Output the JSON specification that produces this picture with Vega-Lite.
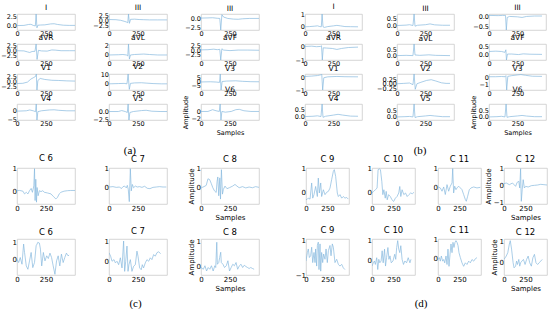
{
"$schema":"https://vega.github.io/schema/vega-lite/v6.json",
"background":"white",
"padding":{"left":0,"right":0,"top":2,"bottom":0},
"config":{
"view":{"stroke":"#cccccc","strokeWidth":0.8},
"axis":{"ticks":false,"domain":false,"grid":false,"labelFont":"DejaVu Sans","labelFontSize":6.5,"labelColor":"#000","labelPadding":0.5,"labelOverlap":false,"labelFlush":false,"titleFont":"DejaVu Sans","titleFontSize":6.5,"titleFontWeight":"normal","titleColor":"#000","titlePadding":2},
"title":{"font":"DejaVu Sans","fontSize":7.5,"fontWeight":"normal","offset":1.5,"color":"#000","anchor":"middle"},
"line":{"color":"#86b9de","strokeWidth":0.7}
},
"data":{"values":[
{"p":"aI","x":0,"y":0},{"p":"aI","x":60,"y":0.05},{"p":"aI","x":100,"y":0.3},{"p":"aI","x":120,"y":0.35},{"p":"aI","x":140,"y":0.05},{"p":"aI","x":158,"y":-0.1},{"p":"aI","x":165,"y":3.15},{"p":"aI","x":172,"y":-0.6},{"p":"aI","x":180,"y":0.1},{"p":"aI","x":200,"y":0.15},{"p":"aI","x":240,"y":0.2},{"p":"aI","x":290,"y":0.45},{"p":"aI","x":320,"y":0.5},{"p":"aI","x":350,"y":0.3},{"p":"aI","x":400,"y":0.1},{"p":"aI","x":450,"y":0.05},{"p":"aI","x":500,"y":0.05},
{"p":"aIII","x":0,"y":0.5},{"p":"aIII","x":60,"y":0.4},{"p":"aIII","x":100,"y":0.1},{"p":"aIII","x":130,"y":-0.4},{"p":"aIII","x":150,"y":-0.8},{"p":"aIII","x":162,"y":-1.2},{"p":"aIII","x":168,"y":3.4},{"p":"aIII","x":176,"y":-1.5},{"p":"aIII","x":186,"y":0.6},{"p":"aIII","x":220,"y":0.7},{"p":"aIII","x":260,"y":0.5},{"p":"aIII","x":300,"y":0.4},{"p":"aIII","x":350,"y":0.3},{"p":"aIII","x":420,"y":0.3},{"p":"aIII","x":500,"y":0.3},
{"p":"aIIIb","x":0,"y":0.2},{"p":"aIIIb","x":60,"y":0.25},{"p":"aIIIb","x":100,"y":0.3},{"p":"aIIIb","x":140,"y":0.15},{"p":"aIIIb","x":162,"y":0.1},{"p":"aIIIb","x":170,"y":-3.3},{"p":"aIIIb","x":180,"y":1.2},{"p":"aIIIb","x":195,"y":0.5},{"p":"aIIIb","x":230,"y":0.1},{"p":"aIIIb","x":280,"y":-0.1},{"p":"aIIIb","x":320,"y":-0.15},{"p":"aIIIb","x":360,"y":0},{"p":"aIIIb","x":420,"y":0.1},{"p":"aIIIb","x":500,"y":0.1},
{"p":"aaVR","x":0,"y":0},{"p":"aaVR","x":60,"y":-0.1},{"p":"aaVR","x":90,"y":-0.6},{"p":"aaVR","x":110,"y":-0.9},{"p":"aaVR","x":130,"y":-0.4},{"p":"aaVR","x":155,"y":-0.3},{"p":"aaVR","x":165,"y":3.4},{"p":"aaVR","x":173,"y":-4.4},{"p":"aaVR","x":185,"y":0.2},{"p":"aaVR","x":210,"y":-0.1},{"p":"aaVR","x":260,"y":-0.2},{"p":"aaVR","x":300,"y":0.4},{"p":"aaVR","x":330,"y":0.3},{"p":"aaVR","x":380,"y":0},{"p":"aaVR","x":450,"y":0},{"p":"aaVR","x":500,"y":0},
{"p":"aaVL","x":0,"y":0},{"p":"aaVL","x":80,"y":0.05},{"p":"aaVL","x":120,"y":0.1},{"p":"aaVL","x":150,"y":0},{"p":"aaVL","x":162,"y":-0.2},{"p":"aaVL","x":168,"y":2.4},{"p":"aaVL","x":176,"y":-0.9},{"p":"aaVL","x":185,"y":0},{"p":"aaVL","x":220,"y":0.1},{"p":"aaVL","x":300,"y":0.2},{"p":"aaVL","x":350,"y":0.1},{"p":"aaVL","x":420,"y":0},{"p":"aaVL","x":500,"y":0},
{"p":"aaVF","x":0,"y":0.2},{"p":"aaVF","x":60,"y":0.3},{"p":"aaVF","x":110,"y":0.6},{"p":"aaVF","x":140,"y":0.3},{"p":"aaVF","x":162,"y":0.5},{"p":"aaVF","x":170,"y":-5.3},{"p":"aaVF","x":180,"y":0.8},{"p":"aaVF","x":195,"y":0.1},{"p":"aaVF","x":250,"y":-0.2},{"p":"aaVF","x":320,"y":0.1},{"p":"aaVF","x":400,"y":0.1},{"p":"aaVF","x":500,"y":0},
{"p":"aV1","x":0,"y":-1},{"p":"aV1","x":50,"y":-0.9},{"p":"aV1","x":90,"y":-0.3},{"p":"aV1","x":120,"y":1.2},{"p":"aV1","x":145,"y":2},{"p":"aV1","x":160,"y":2.5},{"p":"aV1","x":167,"y":3.7},{"p":"aV1","x":172,"y":-4.2},{"p":"aV1","x":180,"y":0.5},{"p":"aV1","x":200,"y":1.5},{"p":"aV1","x":240,"y":1},{"p":"aV1","x":300,"y":0.6},{"p":"aV1","x":360,"y":0.5},{"p":"aV1","x":430,"y":0.3},{"p":"aV1","x":500,"y":0.2},
{"p":"aV2","x":0,"y":0},{"p":"aV2","x":80,"y":0.3},{"p":"aV2","x":130,"y":0.5},{"p":"aV2","x":155,"y":0},{"p":"aV2","x":165,"y":10.7},{"p":"aV2","x":175,"y":-6},{"p":"aV2","x":185,"y":0.5},{"p":"aV2","x":220,"y":1},{"p":"aV2","x":280,"y":1.2},{"p":"aV2","x":320,"y":0.8},{"p":"aV2","x":380,"y":0.3},{"p":"aV2","x":450,"y":0},{"p":"aV2","x":500,"y":0},
{"p":"aV3","x":0,"y":-0.5},{"p":"aV3","x":80,"y":-0.3},{"p":"aV3","x":130,"y":-0.6},{"p":"aV3","x":160,"y":-1},{"p":"aV3","x":166,"y":8.5},{"p":"aV3","x":173,"y":-9.6},{"p":"aV3","x":182,"y":0},{"p":"aV3","x":220,"y":0.5},{"p":"aV3","x":300,"y":0.8},{"p":"aV3","x":360,"y":0.2},{"p":"aV3","x":430,"y":-0.2},{"p":"aV3","x":500,"y":-0.3},
{"p":"aV4","x":0,"y":-0.2},{"p":"aV4","x":80,"y":0},{"p":"aV4","x":110,"y":0.5},{"p":"aV4","x":140,"y":0},{"p":"aV4","x":160,"y":-0.5},{"p":"aV4","x":166,"y":4},{"p":"aV4","x":172,"y":-5.4},{"p":"aV4","x":180,"y":-0.5},{"p":"aV4","x":210,"y":0},{"p":"aV4","x":280,"y":0.5},{"p":"aV4","x":320,"y":0.6},{"p":"aV4","x":360,"y":0.3},{"p":"aV4","x":430,"y":0},{"p":"aV4","x":500,"y":0},
{"p":"aV5","x":0,"y":0},{"p":"aV5","x":80,"y":0},{"p":"aV5","x":110,"y":0.3},{"p":"aV5","x":140,"y":0},{"p":"aV5","x":158,"y":-0.3},{"p":"aV5","x":165,"y":2.4},{"p":"aV5","x":172,"y":-2.7},{"p":"aV5","x":180,"y":-0.3},{"p":"aV5","x":210,"y":0},{"p":"aV5","x":280,"y":0.3},{"p":"aV5","x":320,"y":0.4},{"p":"aV5","x":370,"y":0.1},{"p":"aV5","x":440,"y":0},{"p":"aV5","x":500,"y":0},
{"p":"aV6","x":0,"y":0},{"p":"aV6","x":60,"y":0},{"p":"aV6","x":100,"y":0.5},{"p":"aV6","x":130,"y":0.2},{"p":"aV6","x":158,"y":0},{"p":"aV6","x":165,"y":2.1},{"p":"aV6","x":172,"y":-2.4},{"p":"aV6","x":180,"y":0},{"p":"aV6","x":210,"y":-0.2},{"p":"aV6","x":260,"y":0},{"p":"aV6","x":300,"y":0.5},{"p":"aV6","x":330,"y":0.6},{"p":"aV6","x":370,"y":0.2},{"p":"aV6","x":430,"y":0},{"p":"aV6","x":500,"y":0},
{"p":"bI","x":0,"y":0},{"p":"bI","x":40,"y":0.02},{"p":"bI","x":80,"y":0.05},{"p":"bI","x":110,"y":0.08},{"p":"bI","x":130,"y":0.02},{"p":"bI","x":143,"y":0},{"p":"bI","x":150,"y":1.08},{"p":"bI","x":158,"y":0},{"p":"bI","x":170,"y":-0.05},{"p":"bI","x":200,"y":0.02},{"p":"bI","x":250,"y":0.08},{"p":"bI","x":280,"y":0.12},{"p":"bI","x":310,"y":0.08},{"p":"bI","x":350,"y":0.02},{"p":"bI","x":400,"y":0.01},{"p":"bI","x":465,"y":0},
{"p":"bIII","x":0,"y":0},{"p":"bIII","x":80,"y":0.03},{"p":"bIII","x":110,"y":0.06},{"p":"bIII","x":140,"y":0},{"p":"bIII","x":150,"y":0.85},{"p":"bIII","x":158,"y":-0.05},{"p":"bIII","x":180,"y":0.02},{"p":"bIII","x":250,"y":0.06},{"p":"bIII","x":290,"y":0.12},{"p":"bIII","x":330,"y":0.05},{"p":"bIII","x":400,"y":0.02},{"p":"bIII","x":465,"y":0.02},
{"p":"bIIIb","x":0,"y":0.05},{"p":"bIIIb","x":80,"y":0.04},{"p":"bIIIb","x":120,"y":0.05},{"p":"bIIIb","x":145,"y":0.05},{"p":"bIIIb","x":152,"y":-0.67},{"p":"bIIIb","x":160,"y":-0.05},{"p":"bIIIb","x":180,"y":0},{"p":"bIIIb","x":250,"y":-0.02},{"p":"bIIIb","x":290,"y":-0.05},{"p":"bIIIb","x":330,"y":0},{"p":"bIIIb","x":400,"y":0.02},{"p":"bIIIb","x":465,"y":0.02},
{"p":"baVR","x":0,"y":0},{"p":"baVR","x":60,"y":0.02},{"p":"baVR","x":100,"y":-0.02},{"p":"baVR","x":135,"y":0},{"p":"baVR","x":145,"y":0.05},{"p":"baVR","x":152,"y":-1},{"p":"baVR","x":160,"y":-0.1},{"p":"baVR","x":190,"y":-0.12},{"p":"baVR","x":240,"y":-0.15},{"p":"baVR","x":280,"y":-0.22},{"p":"baVR","x":320,"y":-0.15},{"p":"baVR","x":380,"y":-0.08},{"p":"baVR","x":465,"y":-0.05},
{"p":"baVL","x":0,"y":0},{"p":"baVL","x":80,"y":0.02},{"p":"baVL","x":140,"y":0},{"p":"baVL","x":150,"y":0.9},{"p":"baVL","x":158,"y":0.05},{"p":"baVL","x":200,"y":0.02},{"p":"baVL","x":280,"y":0.06},{"p":"baVL","x":340,"y":0.02},{"p":"baVL","x":465,"y":0},
{"p":"baVF","x":0,"y":0.2},{"p":"baVF","x":60,"y":0.22},{"p":"baVF","x":110,"y":0.2},{"p":"baVF","x":140,"y":0.15},{"p":"baVF","x":148,"y":0.3},{"p":"baVF","x":153,"y":-0.3},{"p":"baVF","x":162,"y":0.05},{"p":"baVF","x":200,"y":0.05},{"p":"baVF","x":260,"y":0.02},{"p":"baVF","x":300,"y":0.06},{"p":"baVF","x":360,"y":0.04},{"p":"baVF","x":465,"y":0.03},
{"p":"bV1","x":0,"y":0.05},{"p":"bV1","x":60,"y":0.08},{"p":"bV1","x":110,"y":0.12},{"p":"bV1","x":140,"y":0.18},{"p":"bV1","x":147,"y":0.22},{"p":"bV1","x":155,"y":-1},{"p":"bV1","x":165,"y":-0.05},{"p":"bV1","x":200,"y":0.02},{"p":"bV1","x":280,"y":0.05},{"p":"bV1","x":350,"y":0.03},{"p":"bV1","x":465,"y":0.02},
{"p":"bV2","x":0,"y":0},{"p":"bV2","x":60,"y":0.02},{"p":"bV2","x":110,"y":0.04},{"p":"bV2","x":140,"y":-0.05},{"p":"bV2","x":150,"y":0.53},{"p":"bV2","x":160,"y":-0.3},{"p":"bV2","x":175,"y":0},{"p":"bV2","x":210,"y":0.08},{"p":"bV2","x":260,"y":0.18},{"p":"bV2","x":300,"y":0.22},{"p":"bV2","x":340,"y":0.15},{"p":"bV2","x":390,"y":0.05},{"p":"bV2","x":430,"y":0.02},{"p":"bV2","x":465,"y":0.02},
{"p":"bV3","x":0,"y":0.05},{"p":"bV3","x":60,"y":0.05},{"p":"bV3","x":110,"y":0.08},{"p":"bV3","x":140,"y":0.05},{"p":"bV3","x":148,"y":0.2},{"p":"bV3","x":155,"y":-1.8},{"p":"bV3","x":165,"y":0.1},{"p":"bV3","x":200,"y":0.2},{"p":"bV3","x":250,"y":0.3},{"p":"bV3","x":280,"y":0.35},{"p":"bV3","x":320,"y":0.25},{"p":"bV3","x":380,"y":0.12},{"p":"bV3","x":465,"y":0.1},
{"p":"bV4","x":0,"y":0},{"p":"bV4","x":70,"y":0.02},{"p":"bV4","x":110,"y":0.05},{"p":"bV4","x":140,"y":0},{"p":"bV4","x":150,"y":0.84},{"p":"bV4","x":158,"y":-0.05},{"p":"bV4","x":180,"y":0.02},{"p":"bV4","x":250,"y":0.1},{"p":"bV4","x":290,"y":0.15},{"p":"bV4","x":330,"y":0.1},{"p":"bV4","x":400,"y":0.03},{"p":"bV4","x":465,"y":0.02},
{"p":"bV5","x":0,"y":0},{"p":"bV5","x":70,"y":0.02},{"p":"bV5","x":110,"y":0.04},{"p":"bV5","x":140,"y":0},{"p":"bV5","x":150,"y":1.05},{"p":"bV5","x":158,"y":-0.05},{"p":"bV5","x":180,"y":0.02},{"p":"bV5","x":250,"y":0.08},{"p":"bV5","x":290,"y":0.12},{"p":"bV5","x":330,"y":0.08},{"p":"bV5","x":400,"y":0.02},{"p":"bV5","x":465,"y":0.02},
{"p":"bV6","x":0,"y":0},{"p":"bV6","x":70,"y":0.02},{"p":"bV6","x":110,"y":0.05},{"p":"bV6","x":140,"y":0},{"p":"bV6","x":150,"y":1.05},{"p":"bV6","x":158,"y":-0.03},{"p":"bV6","x":180,"y":0.02},{"p":"bV6","x":250,"y":0.08},{"p":"bV6","x":290,"y":0.12},{"p":"bV6","x":330,"y":0.07},{"p":"bV6","x":400,"y":0.02},{"p":"bV6","x":465,"y":0.02},
{"p":"c6a","x":0,"y":0.03},{"p":"c6a","x":23,"y":0.04},{"p":"c6a","x":51,"y":0.01},{"p":"c6a","x":65,"y":-0.11},{"p":"c6a","x":80,"y":-0.04},{"p":"c6a","x":94,"y":-0.11},{"p":"c6a","x":108,"y":0.03},{"p":"c6a","x":122,"y":0.13},{"p":"c6a","x":133,"y":-0.04},{"p":"c6a","x":145,"y":0.24},{"p":"c6a","x":151,"y":0.99},{"p":"c6a","x":156,"y":-0.4},{"p":"c6a","x":162,"y":0.53},{"p":"c6a","x":168,"y":-0.47},{"p":"c6a","x":173,"y":0.17},{"p":"c6a","x":182,"y":-0.19},{"p":"c6a","x":193,"y":0.03},{"p":"c6a","x":207,"y":-0.01},{"p":"c6a","x":222,"y":0.03},{"p":"c6a","x":236,"y":-0.04},{"p":"c6a","x":264,"y":-0.07},{"p":"c6a","x":293,"y":-0.11},{"p":"c6a","x":315,"y":-0.23},{"p":"c6a","x":335,"y":-0.33},{"p":"c6a","x":349,"y":-0.26},{"p":"c6a","x":364,"y":-0.11},{"p":"c6a","x":378,"y":-0.04},{"p":"c6a","x":406,"y":0.01},{"p":"c6a","x":435,"y":0.03},{"p":"c6a","x":463,"y":0.04},{"p":"c6a","x":500,"y":0.04},
{"p":"c7a","x":0,"y":0},{"p":"c7a","x":34,"y":0.02},{"p":"c7a","x":63,"y":-0.02},{"p":"c7a","x":92,"y":0},{"p":"c7a","x":106,"y":-0.09},{"p":"c7a","x":121,"y":0.02},{"p":"c7a","x":135,"y":0.05},{"p":"c7a","x":149,"y":-0.05},{"p":"c7a","x":158,"y":0.09},{"p":"c7a","x":166,"y":-0.12},{"p":"c7a","x":175,"y":-0.8},{"p":"c7a","x":184,"y":1.0},{"p":"c7a","x":192,"y":-0.21},{"p":"c7a","x":201,"y":0.14},{"p":"c7a","x":212,"y":-0.04},{"p":"c7a","x":227,"y":0.05},{"p":"c7a","x":244,"y":0},{"p":"c7a","x":264,"y":0.02},{"p":"c7a","x":284,"y":-0.02},{"p":"c7a","x":307,"y":0.04},{"p":"c7a","x":330,"y":-0.07},{"p":"c7a","x":353,"y":-0.09},{"p":"c7a","x":379,"y":-0.02},{"p":"c7a","x":408,"y":0},{"p":"c7a","x":436,"y":0.02},{"p":"c7a","x":465,"y":0},{"p":"c7a","x":494,"y":0},
{"p":"c8a","x":3,"y":-0.04},{"p":"c8a","x":26,"y":0.02},{"p":"c8a","x":45,"y":0.09},{"p":"c8a","x":60,"y":0.45},{"p":"c8a","x":74,"y":0.41},{"p":"c8a","x":88,"y":0.2},{"p":"c8a","x":102,"y":-0.04},{"p":"c8a","x":116,"y":-0.21},{"p":"c8a","x":131,"y":-0.3},{"p":"c8a","x":139,"y":0.32},{"p":"c8a","x":145,"y":0.55},{"p":"c8a","x":153,"y":-0.48},{"p":"c8a","x":162,"y":0.5},{"p":"c8a","x":168,"y":-0.66},{"p":"c8a","x":176,"y":0.95},{"p":"c8a","x":185,"y":-0.39},{"p":"c8a","x":193,"y":-0.13},{"p":"c8a","x":207,"y":0.05},{"p":"c8a","x":224,"y":-0.09},{"p":"c8a","x":244,"y":-0.04},{"p":"c8a","x":273,"y":0.05},{"p":"c8a","x":293,"y":0.14},{"p":"c8a","x":310,"y":0.05},{"p":"c8a","x":329,"y":-0.04},{"p":"c8a","x":358,"y":0.02},{"p":"c8a","x":386,"y":-0.05},{"p":"c8a","x":415,"y":0},{"p":"c8a","x":443,"y":-0.04},{"p":"c8a","x":471,"y":0.02},{"p":"c8a","x":500,"y":-0.02},
{"p":"c6b","x":0,"y":0},{"p":"c6b","x":14,"y":-0.2},{"p":"c6b","x":28,"y":0.1},{"p":"c6b","x":43,"y":-0.3},{"p":"c6b","x":57,"y":0.9},{"p":"c6b","x":65,"y":0.4},{"p":"c6b","x":80,"y":-0.4},{"p":"c6b","x":94,"y":-0.6},{"p":"c6b","x":108,"y":-0.1},{"p":"c6b","x":122,"y":0.4},{"p":"c6b","x":136,"y":-0.5},{"p":"c6b","x":151,"y":-0.2},{"p":"c6b","x":165,"y":0.8},{"p":"c6b","x":173,"y":0.9},{"p":"c6b","x":179,"y":1.0},{"p":"c6b","x":193,"y":0.96},{"p":"c6b","x":202,"y":0.6},{"p":"c6b","x":213,"y":-0.4},{"p":"c6b","x":227,"y":0.4},{"p":"c6b","x":241,"y":-0.1},{"p":"c6b","x":256,"y":0.2},{"p":"c6b","x":270,"y":0.04},{"p":"c6b","x":284,"y":0.36},{"p":"c6b","x":298,"y":0.1},{"p":"c6b","x":312,"y":-0.4},{"p":"c6b","x":327,"y":-0.9},{"p":"c6b","x":341,"y":-0.1},{"p":"c6b","x":355,"y":0.2},{"p":"c6b","x":369,"y":-0.4},{"p":"c6b","x":383,"y":0.3},{"p":"c6b","x":398,"y":-0.2},{"p":"c6b","x":412,"y":0.1},{"p":"c6b","x":426,"y":0.36},{"p":"c6b","x":440,"y":0.2},{"p":"c6b","x":449,"y":0.24},
{"p":"c7b","x":0,"y":0.42},{"p":"c7b","x":14,"y":0.25},{"p":"c7b","x":26,"y":0},{"p":"c7b","x":43,"y":0.08},{"p":"c7b","x":55,"y":-0.08},{"p":"c7b","x":69,"y":0},{"p":"c7b","x":83,"y":-0.17},{"p":"c7b","x":98,"y":0.17},{"p":"c7b","x":112,"y":-0.33},{"p":"c7b","x":126,"y":1.0},{"p":"c7b","x":135,"y":-0.5},{"p":"c7b","x":144,"y":0},{"p":"c7b","x":155,"y":0.75},{"p":"c7b","x":164,"y":-0.5},{"p":"c7b","x":172,"y":-0.17},{"p":"c7b","x":184,"y":0.08},{"p":"c7b","x":198,"y":-0.5},{"p":"c7b","x":212,"y":-0.25},{"p":"c7b","x":227,"y":-0.17},{"p":"c7b","x":241,"y":0.5},{"p":"c7b","x":250,"y":0.25},{"p":"c7b","x":264,"y":-0.33},{"p":"c7b","x":278,"y":-0.42},{"p":"c7b","x":287,"y":-0.17},{"p":"c7b","x":298,"y":-0.33},{"p":"c7b","x":313,"y":-0.08},{"p":"c7b","x":327,"y":0.08},{"p":"c7b","x":342,"y":0},{"p":"c7b","x":356,"y":0.17},{"p":"c7b","x":370,"y":0.08},{"p":"c7b","x":385,"y":0.33},{"p":"c7b","x":399,"y":0.25},{"p":"c7b","x":413,"y":0.42},{"p":"c7b","x":428,"y":0.47},{"p":"c7b","x":445,"y":0.37},
{"p":"c8b","x":0,"y":-0.04},{"p":"c8b","x":20,"y":-0.11},{"p":"c8b","x":34,"y":0.03},{"p":"c8b","x":48,"y":-0.18},{"p":"c8b","x":62,"y":-0.04},{"p":"c8b","x":76,"y":-0.11},{"p":"c8b","x":90,"y":0.03},{"p":"c8b","x":105,"y":-0.18},{"p":"c8b","x":119,"y":0.03},{"p":"c8b","x":127,"y":-0.04},{"p":"c8b","x":136,"y":0.97},{"p":"c8b","x":141,"y":0.09},{"p":"c8b","x":153,"y":0.16},{"p":"c8b","x":161,"y":0.36},{"p":"c8b","x":170,"y":0.57},{"p":"c8b","x":175,"y":0.16},{"p":"c8b","x":189,"y":0.09},{"p":"c8b","x":203,"y":-0.04},{"p":"c8b","x":218,"y":0.03},{"p":"c8b","x":232,"y":0.23},{"p":"c8b","x":246,"y":-0.18},{"p":"c8b","x":260,"y":-0.04},{"p":"c8b","x":274,"y":0.09},{"p":"c8b","x":288,"y":0.03},{"p":"c8b","x":302,"y":0.16},{"p":"c8b","x":316,"y":-0.11},{"p":"c8b","x":331,"y":0.03},{"p":"c8b","x":345,"y":0.09},{"p":"c8b","x":359,"y":-0.04},{"p":"c8b","x":373,"y":0.05},{"p":"c8b","x":387,"y":0},{"p":"c8b","x":401,"y":-0.04},{"p":"c8b","x":415,"y":-0.08},{"p":"c8b","x":429,"y":-0.04},{"p":"c8b","x":444,"y":-0.08},{"p":"c8b","x":458,"y":-0.11},
{"p":"d9a","x":0,"y":-0.33},{"p":"d9a","x":16,"y":-0.3},{"p":"d9a","x":27,"y":-0.26},{"p":"d9a","x":47,"y":-0.3},{"p":"d9a","x":66,"y":0.39},{"p":"d9a","x":78,"y":-0.26},{"p":"d9a","x":93,"y":-0.11},{"p":"d9a","x":112,"y":0.24},{"p":"d9a","x":132,"y":-0.19},{"p":"d9a","x":143,"y":0.6},{"p":"d9a","x":155,"y":-0.04},{"p":"d9a","x":171,"y":0.39},{"p":"d9a","x":182,"y":-0.19},{"p":"d9a","x":202,"y":0.1},{"p":"d9a","x":221,"y":-0.11},{"p":"d9a","x":240,"y":-0.01},{"p":"d9a","x":260,"y":0.03},{"p":"d9a","x":279,"y":0.17},{"p":"d9a","x":298,"y":0.53},{"p":"d9a","x":318,"y":0.89},{"p":"d9a","x":329,"y":0.96},{"p":"d9a","x":345,"y":0.67},{"p":"d9a","x":364,"y":-0.04},{"p":"d9a","x":376,"y":-0.19},{"p":"d9a","x":395,"y":-0.11},{"p":"d9a","x":415,"y":-0.26},{"p":"d9a","x":434,"y":-0.19},{"p":"d9a","x":453,"y":-0.26},{"p":"d9a","x":473,"y":-0.23},{"p":"d9a","x":492,"y":-0.3},
{"p":"d10a","x":0,"y":-0.04},{"p":"d10a","x":20,"y":0.03},{"p":"d10a","x":39,"y":0.1},{"p":"d10a","x":59,"y":0.17},{"p":"d10a","x":71,"y":0.96},{"p":"d10a","x":87,"y":0.99},{"p":"d10a","x":98,"y":0.96},{"p":"d10a","x":114,"y":0.46},{"p":"d10a","x":126,"y":-0.11},{"p":"d10a","x":138,"y":0.1},{"p":"d10a","x":154,"y":-0.26},{"p":"d10a","x":165,"y":0.03},{"p":"d10a","x":177,"y":-0.33},{"p":"d10a","x":193,"y":-0.11},{"p":"d10a","x":213,"y":-0.19},{"p":"d10a","x":232,"y":-0.33},{"p":"d10a","x":252,"y":-0.4},{"p":"d10a","x":272,"y":-0.26},{"p":"d10a","x":291,"y":-0.19},{"p":"d10a","x":311,"y":-0.04},{"p":"d10a","x":323,"y":0.24},{"p":"d10a","x":335,"y":-0.19},{"p":"d10a","x":350,"y":0.1},{"p":"d10a","x":370,"y":-0.11},{"p":"d10a","x":390,"y":-0.04},{"p":"d10a","x":409,"y":-0.19},{"p":"d10a","x":429,"y":-0.11},{"p":"d10a","x":449,"y":-0.04},{"p":"d10a","x":469,"y":-0.07},{"p":"d10a","x":488,"y":-0.01},
{"p":"d11a","x":0,"y":0.05},{"p":"d11a","x":27,"y":0},{"p":"d11a","x":47,"y":-0.17},{"p":"d11a","x":66,"y":0.05},{"p":"d11a","x":85,"y":-0.34},{"p":"d11a","x":105,"y":0.17},{"p":"d11a","x":124,"y":-0.17},{"p":"d11a","x":143,"y":0.09},{"p":"d11a","x":163,"y":0.26},{"p":"d11a","x":171,"y":1.0},{"p":"d11a","x":182,"y":-0.26},{"p":"d11a","x":194,"y":0.09},{"p":"d11a","x":209,"y":-0.09},{"p":"d11a","x":221,"y":0},{"p":"d11a","x":240,"y":0.09},{"p":"d11a","x":260,"y":0},{"p":"d11a","x":279,"y":-0.09},{"p":"d11a","x":298,"y":-0.34},{"p":"d11a","x":318,"y":-0.6},{"p":"d11a","x":329,"y":-0.69},{"p":"d11a","x":345,"y":-0.43},{"p":"d11a","x":364,"y":-0.09},{"p":"d11a","x":384,"y":0},{"p":"d11a","x":415,"y":0.05},{"p":"d11a","x":453,"y":0},{"p":"d11a","x":492,"y":0.03},
{"p":"d12a","x":0,"y":0.1},{"p":"d12a","x":26,"y":0.14},{"p":"d12a","x":62,"y":0.04},{"p":"d12a","x":99,"y":0.14},{"p":"d12a","x":135,"y":-0.06},{"p":"d12a","x":153,"y":0.18},{"p":"d12a","x":172,"y":0.24},{"p":"d12a","x":183,"y":-0.16},{"p":"d12a","x":193,"y":1.0},{"p":"d12a","x":201,"y":-0.96},{"p":"d12a","x":212,"y":-0.26},{"p":"d12a","x":223,"y":0.34},{"p":"d12a","x":237,"y":-0.16},{"p":"d12a","x":252,"y":-0.06},{"p":"d12a","x":281,"y":-0.1},{"p":"d12a","x":318,"y":-0.02},{"p":"d12a","x":354,"y":0},{"p":"d12a","x":391,"y":0.02},{"p":"d12a","x":427,"y":0.06},{"p":"d12a","x":464,"y":0.04},{"p":"d12a","x":500,"y":0.02},
{"p":"d9b","x":0,"y":-0.2},{"p":"d9b","x":16,"y":0.29},{"p":"d9b","x":27,"y":0.49},{"p":"d9b","x":39,"y":0},{"p":"d9b","x":54,"y":0.1},{"p":"d9b","x":66,"y":0.59},{"p":"d9b","x":78,"y":-0.29},{"p":"d9b","x":93,"y":0.29},{"p":"d9b","x":105,"y":-0.29},{"p":"d9b","x":112,"y":0.49},{"p":"d9b","x":124,"y":-0.49},{"p":"d9b","x":132,"y":0.69},{"p":"d9b","x":143,"y":0.88},{"p":"d9b","x":151,"y":-0.69},{"p":"d9b","x":163,"y":0.78},{"p":"d9b","x":171,"y":-0.78},{"p":"d9b","x":182,"y":0.29},{"p":"d9b","x":194,"y":-0.29},{"p":"d9b","x":205,"y":0.2},{"p":"d9b","x":221,"y":-0.1},{"p":"d9b","x":233,"y":0.49},{"p":"d9b","x":248,"y":-0.29},{"p":"d9b","x":260,"y":0.39},{"p":"d9b","x":279,"y":0.69},{"p":"d9b","x":291,"y":0.1},{"p":"d9b","x":306,"y":0.78},{"p":"d9b","x":318,"y":0.59},{"p":"d9b","x":337,"y":-0.29},{"p":"d9b","x":357,"y":-0.1},{"p":"d9b","x":376,"y":-0.39},{"p":"d9b","x":395,"y":-0.49},{"p":"d9b","x":415,"y":-0.39},{"p":"d9b","x":434,"y":-0.59},{"p":"d9b","x":453,"y":-0.69},
{"p":"d10b","x":0,"y":-0.28},{"p":"d10b","x":16,"y":-0.12},{"p":"d10b","x":28,"y":-0.03},{"p":"d10b","x":39,"y":-0.2},{"p":"d10b","x":55,"y":0.13},{"p":"d10b","x":67,"y":-0.45},{"p":"d10b","x":79,"y":0.05},{"p":"d10b","x":91,"y":-0.12},{"p":"d10b","x":106,"y":-0.03},{"p":"d10b","x":118,"y":0.47},{"p":"d10b","x":130,"y":-0.12},{"p":"d10b","x":146,"y":0.55},{"p":"d10b","x":157,"y":-0.28},{"p":"d10b","x":169,"y":0.13},{"p":"d10b","x":185,"y":0.63},{"p":"d10b","x":197,"y":0.05},{"p":"d10b","x":209,"y":0.22},{"p":"d10b","x":224,"y":-0.12},{"p":"d10b","x":244,"y":-0.03},{"p":"d10b","x":264,"y":0.3},{"p":"d10b","x":276,"y":0.05},{"p":"d10b","x":287,"y":0.63},{"p":"d10b","x":299,"y":0.97},{"p":"d10b","x":311,"y":0.55},{"p":"d10b","x":323,"y":0.38},{"p":"d10b","x":335,"y":0.72},{"p":"d10b","x":350,"y":0.05},{"p":"d10b","x":366,"y":-0.2},{"p":"d10b","x":382,"y":-0.03},{"p":"d10b","x":402,"y":-0.12},{"p":"d10b","x":421,"y":0.13},{"p":"d10b","x":441,"y":-0.12},{"p":"d10b","x":453,"y":0.05},
{"p":"d11b","x":0,"y":-0.06},{"p":"d11b","x":16,"y":0.04},{"p":"d11b","x":27,"y":-0.15},{"p":"d11b","x":39,"y":0.13},{"p":"d11b","x":54,"y":-0.15},{"p":"d11b","x":66,"y":-0.06},{"p":"d11b","x":78,"y":-0.24},{"p":"d11b","x":93,"y":0.13},{"p":"d11b","x":105,"y":-0.33},{"p":"d11b","x":116,"y":0.5},{"p":"d11b","x":128,"y":-0.43},{"p":"d11b","x":140,"y":0.22},{"p":"d11b","x":151,"y":0.78},{"p":"d11b","x":163,"y":0.31},{"p":"d11b","x":174,"y":0.87},{"p":"d11b","x":186,"y":0.59},{"p":"d11b","x":198,"y":0.87},{"p":"d11b","x":209,"y":0.96},{"p":"d11b","x":221,"y":0.87},{"p":"d11b","x":233,"y":0.69},{"p":"d11b","x":244,"y":0.31},{"p":"d11b","x":260,"y":0.04},{"p":"d11b","x":279,"y":-0.24},{"p":"d11b","x":298,"y":-0.43},{"p":"d11b","x":318,"y":-0.24},{"p":"d11b","x":337,"y":-0.33},{"p":"d11b","x":357,"y":-0.15},{"p":"d11b","x":376,"y":-0.24},{"p":"d11b","x":395,"y":-0.06},{"p":"d11b","x":415,"y":-0.15},{"p":"d11b","x":434,"y":-0.02},{"p":"d11b","x":453,"y":0.04},
{"p":"d12b","x":0,"y":0.16},{"p":"d12b","x":26,"y":0.32},{"p":"d12b","x":44,"y":0.48},{"p":"d12b","x":62,"y":0.89},{"p":"d12b","x":73,"y":1.05},{"p":"d12b","x":88,"y":0.65},{"p":"d12b","x":106,"y":0},{"p":"d12b","x":117,"y":-0.24},{"p":"d12b","x":135,"y":-0.16},{"p":"d12b","x":146,"y":0.08},{"p":"d12b","x":157,"y":-0.08},{"p":"d12b","x":172,"y":0.16},{"p":"d12b","x":183,"y":-0.16},{"p":"d12b","x":193,"y":0},{"p":"d12b","x":208,"y":0.08},{"p":"d12b","x":226,"y":0.16},{"p":"d12b","x":245,"y":-0.08},{"p":"d12b","x":263,"y":0.16},{"p":"d12b","x":281,"y":0.32},{"p":"d12b","x":299,"y":0},{"p":"d12b","x":318,"y":-0.16},{"p":"d12b","x":336,"y":0.24},{"p":"d12b","x":354,"y":0.4},{"p":"d12b","x":372,"y":0},{"p":"d12b","x":391,"y":-0.08},{"p":"d12b","x":409,"y":0},{"p":"d12b","x":427,"y":0.08},{"p":"d12b","x":445,"y":0.16}
]},
"spacing":-2,
"vconcat":[
{"spacing":33,"hconcat":[
{"title":{"text":"(a)","orient":"bottom","anchor":"middle","font":"Liberation Serif","fontSize":11,"offset":9},
"columns":3,"bounds":"flush","spacing":{"row":14,"column":34},
"concat":[
{"width":58,"height":16,"title":"I","transform":[{"filter":"datum.p=='aI'"}],"mark":{"type":"line","clip":true},"encoding":{"x":{"field":"x","type":"quantitative","scale":{"domain":[0,500]},"axis":{"values":[0,250],"title":null}},"y":{"field":"y","type":"quantitative","scale":{"domain":[-1.2,3.15]},"axis":{"values":[2.5,0],"format":".1f","title":null}}}},
{"width":58,"height":16,"title":"III","transform":[{"filter":"datum.p=='aIII'"}],"mark":{"type":"line","clip":true},"encoding":{"x":{"field":"x","type":"quantitative","scale":{"domain":[0,500]},"axis":{"values":[0,250],"title":null}},"y":{"field":"y","type":"quantitative","scale":{"domain":[-5,3.4]},"axis":{"values":[2.5,0,-2.5],"format":".1f","title":null}}}},
{"width":58,"height":16,"title":"III","transform":[{"filter":"datum.p=='aIIIb'"}],"mark":{"type":"line","clip":true},"encoding":{"x":{"field":"x","type":"quantitative","scale":{"domain":[0,500]},"axis":{"values":[0,250],"title":null}},"y":{"field":"y","type":"quantitative","scale":{"domain":[-3.3,1.4]},"axis":{"values":[0,-2.5],"format":".1f","title":null}}}},
{"width":58,"height":16,"title":"aVR","transform":[{"filter":"datum.p=='aaVR'"}],"mark":{"type":"line","clip":true},"encoding":{"x":{"field":"x","type":"quantitative","scale":{"domain":[0,500]},"axis":{"values":[0,250],"title":null}},"y":{"field":"y","type":"quantitative","scale":{"domain":[-4.7,3.4]},"axis":{"values":[2.5,0,-2.5],"format":".1f","title":null}}}},
{"width":58,"height":16,"title":"aVL","transform":[{"filter":"datum.p=='aaVL'"}],"mark":{"type":"line","clip":true},"encoding":{"x":{"field":"x","type":"quantitative","scale":{"domain":[0,500]},"axis":{"values":[0,250],"title":null}},"y":{"field":"y","type":"quantitative","scale":{"domain":[-1.1,2.4]},"axis":{"values":[2,0],"format":"d","title":null}}}},
{"width":58,"height":16,"title":"aVF","transform":[{"filter":"datum.p=='aaVF'"}],"mark":{"type":"line","clip":true},"encoding":{"x":{"field":"x","type":"quantitative","scale":{"domain":[0,500]},"axis":{"values":[0,250],"title":null}},"y":{"field":"y","type":"quantitative","scale":{"domain":[-5.3,3.4]},"axis":{"values":[2.5,0,-2.5],"format":".1f","title":null}}}},
{"width":58,"height":16,"title":"V1","transform":[{"filter":"datum.p=='aV1'"}],"mark":{"type":"line","clip":true},"encoding":{"x":{"field":"x","type":"quantitative","scale":{"domain":[0,500]},"axis":{"values":[0,250],"title":null}},"y":{"field":"y","type":"quantitative","scale":{"domain":[-4.2,3.7]},"axis":{"values":[2.5,0,-2.5],"format":".1f","title":null}}}},
{"width":58,"height":16,"title":"V2","transform":[{"filter":"datum.p=='aV2'"}],"mark":{"type":"line","clip":true},"encoding":{"x":{"field":"x","type":"quantitative","scale":{"domain":[0,500]},"axis":{"values":[0,250],"title":null}},"y":{"field":"y","type":"quantitative","scale":{"domain":[-6.7,10.7]},"axis":{"values":[10,0],"format":"d","title":null}}}},
{"width":58,"height":16,"title":"V3","transform":[{"filter":"datum.p=='aV3'"}],"mark":{"type":"line","clip":true},"encoding":{"x":{"field":"x","type":"quantitative","scale":{"domain":[0,500]},"axis":{"values":[0,250],"title":null}},"y":{"field":"y","type":"quantitative","scale":{"domain":[-9.6,8.5]},"axis":{"values":[5,0,-5],"format":"d","title":null}}}},
{"width":58,"height":16,"title":"V4","transform":[{"filter":"datum.p=='aV4'"}],"mark":{"type":"line","clip":true},"encoding":{"x":{"field":"x","type":"quantitative","scale":{"domain":[0,500]},"axis":{"values":[0,250],"title":null}},"y":{"field":"y","type":"quantitative","scale":{"domain":[-5.4,4]},"axis":{"values":[0,-5],"format":"d","title":null}}}},
{"width":58,"height":16,"title":"V5","transform":[{"filter":"datum.p=='aV5'"}],"mark":{"type":"line","clip":true},"encoding":{"x":{"field":"x","type":"quantitative","scale":{"domain":[0,500]},"axis":{"values":[0,250],"title":null}},"y":{"field":"y","type":"quantitative","scale":{"domain":[-2.7,2.4]},"axis":{"values":[0,-2.5],"format":".1f","title":null}}}},
{"width":58,"height":16,"title":"V6","transform":[{"filter":"datum.p=='aV6'"}],"mark":{"type":"line","clip":true},"encoding":{"x":{"field":"x","type":"quantitative","scale":{"domain":[0,500]},"axis":{"values":[0,250],"title":"Samples"}},"y":{"field":"y","type":"quantitative","scale":{"domain":[-2.4,2.1]},"axis":{"values":[0,-2],"format":"d","title":"Amplitude"}}}}
]},
{"title":{"text":"(b)","orient":"bottom","anchor":"middle","font":"Liberation Serif","fontSize":11,"offset":9},
"columns":3,"bounds":"flush","spacing":{"row":14,"column":35},
"concat":[
{"width":57,"height":16,"title":"I","transform":[{"filter":"datum.p=='bI'"}],"mark":{"type":"line","clip":true},"encoding":{"x":{"field":"x","type":"quantitative","scale":{"domain":[0,500]},"axis":{"values":[0,250],"title":null}},"y":{"field":"y","type":"quantitative","scale":{"domain":[-0.27,1.08]},"axis":{"values":[1,0],"format":"d","title":null}}}},
{"width":57,"height":16,"title":"III","transform":[{"filter":"datum.p=='bIII'"}],"mark":{"type":"line","clip":true},"encoding":{"x":{"field":"x","type":"quantitative","scale":{"domain":[0,500]},"axis":{"values":[0,250],"title":null}},"y":{"field":"y","type":"quantitative","scale":{"domain":[-0.33,0.85]},"axis":{"values":[0.5,0],"format":".1f","title":null}}}},
{"width":57,"height":16,"title":"III","transform":[{"filter":"datum.p=='bIIIb'"}],"mark":{"type":"line","clip":true},"encoding":{"x":{"field":"x","type":"quantitative","scale":{"domain":[0,500]},"axis":{"values":[0,250],"title":null}},"y":{"field":"y","type":"quantitative","scale":{"domain":[-0.67,0.12]},"axis":{"values":[0,-0.5],"format":".1f","title":null}}}},
{"width":57,"height":16,"title":"aVR","transform":[{"filter":"datum.p=='baVR'"}],"mark":{"type":"line","clip":true},"encoding":{"x":{"field":"x","type":"quantitative","scale":{"domain":[0,500]},"axis":{"values":[0,250],"title":null}},"y":{"field":"y","type":"quantitative","scale":{"domain":[-1,0.18]},"axis":{"values":[0,-1],"format":"d","title":null}}}},
{"width":57,"height":16,"title":"aVL","transform":[{"filter":"datum.p=='baVL'"}],"mark":{"type":"line","clip":true},"encoding":{"x":{"field":"x","type":"quantitative","scale":{"domain":[0,500]},"axis":{"values":[0,250],"title":null}},"y":{"field":"y","type":"quantitative","scale":{"domain":[-0.34,0.9]},"axis":{"values":[0.5,0],"format":".1f","title":null}}}},
{"width":57,"height":16,"title":"aVF","transform":[{"filter":"datum.p=='baVF'"}],"mark":{"type":"line","clip":true},"encoding":{"x":{"field":"x","type":"quantitative","scale":{"domain":[0,500]},"axis":{"values":[0,250],"title":null}},"y":{"field":"y","type":"quantitative","scale":{"domain":[-0.3,0.64]},"axis":{"values":[0.5,0],"format":".1f","title":null}}}},
{"width":57,"height":16,"title":"V1","transform":[{"filter":"datum.p=='bV1'"}],"mark":{"type":"line","clip":true},"encoding":{"x":{"field":"x","type":"quantitative","scale":{"domain":[0,500]},"axis":{"values":[0,250],"title":null}},"y":{"field":"y","type":"quantitative","scale":{"domain":[-1,0.24]},"axis":{"values":[0,-1],"format":"d","title":null}}}},
{"width":57,"height":16,"title":"V2","transform":[{"filter":"datum.p=='bV2'"}],"mark":{"type":"line","clip":true},"encoding":{"x":{"field":"x","type":"quantitative","scale":{"domain":[0,500]},"axis":{"values":[0,250],"title":null}},"y":{"field":"y","type":"quantitative","scale":{"domain":[-0.34,0.53]},"axis":{"values":[0.25,0,-0.25],"format":".2f","title":null}}}},
{"width":57,"height":16,"title":"V3","transform":[{"filter":"datum.p=='bV3'"}],"mark":{"type":"line","clip":true},"encoding":{"x":{"field":"x","type":"quantitative","scale":{"domain":[0,500]},"axis":{"values":[0,250],"title":null}},"y":{"field":"y","type":"quantitative","scale":{"domain":[-1.8,0.43]},"axis":{"values":[0,-1],"format":"d","title":null}}}},
{"width":57,"height":16,"title":"V4","transform":[{"filter":"datum.p=='bV4'"}],"mark":{"type":"line","clip":true},"encoding":{"x":{"field":"x","type":"quantitative","scale":{"domain":[0,500]},"axis":{"values":[0,250],"title":null}},"y":{"field":"y","type":"quantitative","scale":{"domain":[-0.23,0.84]},"axis":{"values":[0.5,0],"format":".1f","title":null}}}},
{"width":57,"height":16,"title":"V5","transform":[{"filter":"datum.p=='bV5'"}],"mark":{"type":"line","clip":true},"encoding":{"x":{"field":"x","type":"quantitative","scale":{"domain":[0,500]},"axis":{"values":[0,250],"title":null}},"y":{"field":"y","type":"quantitative","scale":{"domain":[-0.25,1.05]},"axis":{"values":[0.5,0],"format":".1f","title":null}}}},
{"width":57,"height":16,"title":"V6","transform":[{"filter":"datum.p=='bV6'"}],"mark":{"type":"line","clip":true},"encoding":{"x":{"field":"x","type":"quantitative","scale":{"domain":[0,500]},"axis":{"values":[0,250],"title":"Samples"}},"y":{"field":"y","type":"quantitative","scale":{"domain":[-0.25,1.05]},"axis":{"values":[0.5,0],"format":".1f","title":"Amplitude"}}}}
]}
]},
{"spacing":34,"hconcat":[
{"title":{"text":"(c)","orient":"bottom","anchor":"middle","font":"Liberation Serif","fontSize":11,"offset":6},
"columns":3,"bounds":"flush","spacing":{"row":35,"column":34},
"concat":[
{"width":58,"height":36,"title":{"text":"C 6","fontSize":8.5},"transform":[{"filter":"datum.p=='c6a'"}],"mark":{"type":"line","clip":true},"encoding":{"x":{"field":"x","type":"quantitative","scale":{"domain":[0,500]},"axis":{"values":[0,250],"title":null,"labelFontSize":7}},"y":{"field":"y","type":"quantitative","scale":{"domain":[-0.55,1.02]},"axis":{"values":[1,0],"format":"d","title":null,"labelFontSize":7}}}},
{"width":58,"height":36,"title":{"text":"C 7","fontSize":8.5},"transform":[{"filter":"datum.p=='c7a'"}],"mark":{"type":"line","clip":true},"encoding":{"x":{"field":"x","type":"quantitative","scale":{"domain":[0,500]},"axis":{"values":[0,250],"title":null,"labelFontSize":7}},"y":{"field":"y","type":"quantitative","scale":{"domain":[-0.93,1.04]},"axis":{"values":[1,0],"format":"d","title":null,"labelFontSize":7}}}},
{"width":58,"height":36,"title":{"text":"C 8","fontSize":8.5},"transform":[{"filter":"datum.p=='c8a'"}],"mark":{"type":"line","clip":true},"encoding":{"x":{"field":"x","type":"quantitative","scale":{"domain":[0,500]},"axis":{"values":[0,250],"title":"Samples","labelFontSize":7,"titleFontSize":7}},"y":{"field":"y","type":"quantitative","scale":{"domain":[-0.93,1.04]},"axis":{"values":[1,0],"format":"d","title":"Amplitude","labelFontSize":7,"titleFontSize":7}}}},
{"width":58,"height":36,"title":{"text":"C 6","fontSize":8.5},"transform":[{"filter":"datum.p=='c6b'"}],"mark":{"type":"line","clip":true},"encoding":{"x":{"field":"x","type":"quantitative","scale":{"domain":[0,500]},"axis":{"values":[0,250],"title":null,"labelFontSize":7}},"y":{"field":"y","type":"quantitative","scale":{"domain":[-0.94,1.2]},"axis":{"values":[1,0,-1],"format":"d","title":null,"labelFontSize":7}}}},
{"width":58,"height":36,"title":{"text":"C 7","fontSize":8.5},"transform":[{"filter":"datum.p=='c7b'"}],"mark":{"type":"line","clip":true},"encoding":{"x":{"field":"x","type":"quantitative","scale":{"domain":[0,500]},"axis":{"values":[0,250],"title":null,"labelFontSize":7}},"y":{"field":"y","type":"quantitative","scale":{"domain":[-0.68,1.1]},"axis":{"values":[1,0],"format":"d","title":null,"labelFontSize":7}}}},
{"width":58,"height":36,"title":{"text":"C 8","fontSize":8.5},"transform":[{"filter":"datum.p=='c8b'"}],"mark":{"type":"line","clip":true},"encoding":{"x":{"field":"x","type":"quantitative","scale":{"domain":[0,500]},"axis":{"values":[0,250],"title":"Samples","labelFontSize":7,"titleFontSize":7}},"y":{"field":"y","type":"quantitative","scale":{"domain":[-0.34,1.1]},"axis":{"values":[1,0],"format":"d","title":"Amplitude","labelFontSize":7,"titleFontSize":7}}}}
]},
{"title":{"text":"(d)","orient":"bottom","anchor":"middle","font":"Liberation Serif","fontSize":11,"offset":6},
"columns":4,"bounds":"flush","spacing":{"row":35,"column":23},
"concat":[
{"width":43,"height":36,"title":{"text":"C 9","fontSize":8.5},"transform":[{"filter":"datum.p=='d9a'"}],"mark":{"type":"line","clip":true},"encoding":{"x":{"field":"x","type":"quantitative","scale":{"domain":[0,500]},"axis":{"values":[0,250],"title":null,"labelFontSize":7}},"y":{"field":"y","type":"quantitative","scale":{"domain":[-0.51,1.03]},"axis":{"values":[1,0],"format":"d","title":null,"labelFontSize":7}}}},
{"width":43,"height":36,"title":{"text":"C 10","fontSize":8.5},"transform":[{"filter":"datum.p=='d10a'"}],"mark":{"type":"line","clip":true},"encoding":{"x":{"field":"x","type":"quantitative","scale":{"domain":[0,500]},"axis":{"values":[0,250],"title":null,"labelFontSize":7}},"y":{"field":"y","type":"quantitative","scale":{"domain":[-0.51,1.03]},"axis":{"values":[1,0],"format":"d","title":null,"labelFontSize":7}}}},
{"width":43,"height":36,"title":{"text":"C 11","fontSize":8.5},"transform":[{"filter":"datum.p=='d11a'"}],"mark":{"type":"line","clip":true},"encoding":{"x":{"field":"x","type":"quantitative","scale":{"domain":[0,500]},"axis":{"values":[0,250],"title":null,"labelFontSize":7}},"y":{"field":"y","type":"quantitative","scale":{"domain":[-0.83,1.03]},"axis":{"values":[1,0],"format":"d","title":null,"labelFontSize":7}}}},
{"width":43,"height":36,"title":{"text":"C 12","fontSize":8.5},"transform":[{"filter":"datum.p=='d12a'"}],"mark":{"type":"line","clip":true},"encoding":{"x":{"field":"x","type":"quantitative","scale":{"domain":[0,500]},"axis":{"values":[0,250],"title":"Samples","labelFontSize":7,"titleFontSize":7}},"y":{"field":"y","type":"quantitative","scale":{"domain":[-1.12,1.04]},"axis":{"values":[1,0,-1],"format":"d","title":"Amplitude","labelFontSize":7,"titleFontSize":7}}}},
{"width":43,"height":36,"title":{"text":"C 9","fontSize":8.5},"transform":[{"filter":"datum.p=='d9b'"}],"mark":{"type":"line","clip":true},"encoding":{"x":{"field":"x","type":"quantitative","scale":{"domain":[0,500]},"axis":{"values":[0,250],"title":null,"labelFontSize":7}},"y":{"field":"y","type":"quantitative","scale":{"domain":[-1.0,1.06]},"axis":{"values":[1,0,-1],"format":"d","title":null,"labelFontSize":7}}}},
{"width":43,"height":36,"title":{"text":"C 10","fontSize":8.5},"transform":[{"filter":"datum.p=='d10b'"}],"mark":{"type":"line","clip":true},"encoding":{"x":{"field":"x","type":"quantitative","scale":{"domain":[0,500]},"axis":{"values":[0,250],"title":null,"labelFontSize":7}},"y":{"field":"y","type":"quantitative","scale":{"domain":[-0.72,1.05]},"axis":{"values":[1,0],"format":"d","title":null,"labelFontSize":7}}}},
{"width":43,"height":36,"title":{"text":"C 11","fontSize":8.5},"transform":[{"filter":"datum.p=='d11b'"}],"mark":{"type":"line","clip":true},"encoding":{"x":{"field":"x","type":"quantitative","scale":{"domain":[0,500]},"axis":{"values":[0,250],"title":null,"labelFontSize":7}},"y":{"field":"y","type":"quantitative","scale":{"domain":[-0.9,1.05]},"axis":{"values":[1,0],"format":"d","title":null,"labelFontSize":7}}}},
{"width":43,"height":36,"title":{"text":"C 12","fontSize":8.5},"transform":[{"filter":"datum.p=='d12b'"}],"mark":{"type":"line","clip":true},"encoding":{"x":{"field":"x","type":"quantitative","scale":{"domain":[0,500]},"axis":{"values":[0,250],"title":"Samples","labelFontSize":7,"titleFontSize":7}},"y":{"field":"y","type":"quantitative","scale":{"domain":[-0.58,1.13]},"axis":{"values":[1,0],"format":"d","title":"Amplitude","labelFontSize":7,"titleFontSize":7}}}}
]}
]}
]
}
